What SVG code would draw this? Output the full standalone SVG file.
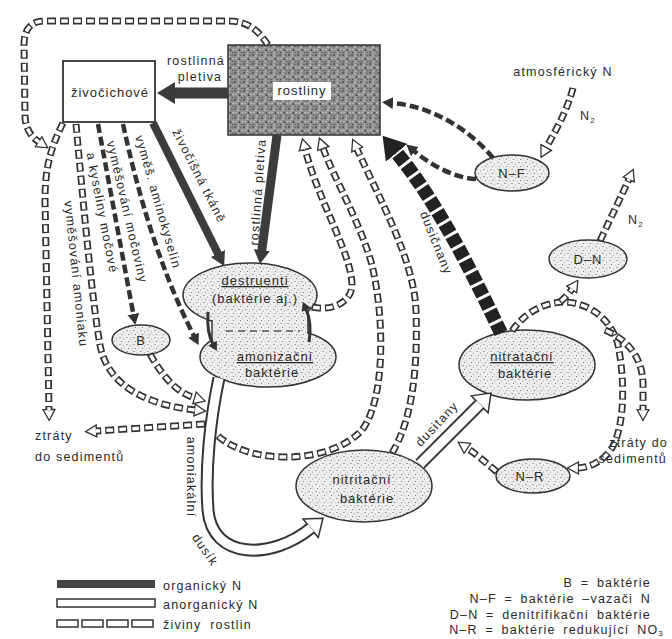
<svg xmlns="http://www.w3.org/2000/svg" width="672" height="639" viewBox="0 0 672 639">
<defs>
<style>
.t{font-family:"Liberation Sans",Arial,sans-serif;font-size:12.5px;fill:#2a2a2a;letter-spacing:1.2px}
.r{text-anchor:middle;dominant-baseline:central}
.k{font-family:"Liberation Sans",Arial,sans-serif;font-size:12.5px;fill:#2a2a2a;letter-spacing:1.2px;word-spacing:3px;text-anchor:end}
.n{font-family:"Liberation Sans",Arial,sans-serif;font-size:13px;fill:#2a2a2a;letter-spacing:1px;text-anchor:middle}
.el{fill:url(#st);stroke:#333;stroke-width:1.5}
.org{stroke:#3c3c3c;fill:none}
.dd{stroke:#333;stroke-width:4.5;stroke-dasharray:9 4;fill:none}
.ho{stroke:#333;stroke-width:7;stroke-dasharray:9 4;fill:none;marker-end:url(#ah)}
.hi{stroke:#fff;stroke-width:3.5;stroke-dasharray:6.6 6.4;stroke-dashoffset:-1.2;fill:none}
.wo{stroke:#333;stroke-width:13;fill:none;marker-end:url(#aw)}
.wi{stroke:#fff;stroke-width:9;fill:none}
.lg{fill:#fff;stroke:#333;stroke-width:1.5}
</style>
<pattern id="st" width="7" height="7" patternUnits="userSpaceOnUse">
<rect width="7" height="7" fill="#eeeeee"/>
<circle cx="1" cy="1.5" r="0.6" fill="#555"/>
<circle cx="4.5" cy="3" r="0.5" fill="#777"/>
<circle cx="2.5" cy="5.5" r="0.55" fill="#666"/>
<circle cx="6" cy="6" r="0.4" fill="#888"/>
</pattern>
<pattern id="rp" width="9" height="9" patternUnits="userSpaceOnUse">
<rect width="9" height="9" fill="#909090"/>
<circle cx="1" cy="1" r="0.9" fill="#454545"/>
<circle cx="4" cy="2" r="0.8" fill="#d2d2d2"/>
<circle cx="7" cy="1.5" r="0.7" fill="#555"/>
<circle cx="2" cy="4.5" r="0.8" fill="#c4c4c4"/>
<circle cx="5.5" cy="5" r="0.9" fill="#404040"/>
<circle cx="8" cy="4.5" r="0.7" fill="#dadada"/>
<circle cx="1.5" cy="7.5" r="0.8" fill="#4a4a4a"/>
<circle cx="4.5" cy="8" r="0.7" fill="#cfcfcf"/>
<circle cx="7.5" cy="7.5" r="0.8" fill="#5a5a5a"/>
</pattern>
<marker id="adL" markerUnits="userSpaceOnUse" viewBox="0 0 18 22" markerWidth="18" markerHeight="22" refX="1" refY="11" orient="auto"><path d="M0,0 L18,11 L0,22 z" fill="#3a3a3a"/></marker>
<marker id="adM" markerUnits="userSpaceOnUse" viewBox="0 0 14 16" markerWidth="14" markerHeight="16" refX="1" refY="8" orient="auto"><path d="M0,0 L14,8 L0,16 z" fill="#3a3a3a"/></marker>
<marker id="adS" markerUnits="userSpaceOnUse" viewBox="0 0 11 12" markerWidth="11" markerHeight="12" refX="1" refY="6" orient="auto"><path d="M0,0 L11,6 L0,12 z" fill="#333"/></marker>
<marker id="adT" markerUnits="userSpaceOnUse" viewBox="0 0 9 10" markerWidth="9" markerHeight="10" refX="1" refY="5" orient="auto"><path d="M0,0 L9,5 L0,10 z" fill="#333"/></marker>
<marker id="adX" markerUnits="userSpaceOnUse" viewBox="0 0 22 28" markerWidth="22" markerHeight="28" refX="1" refY="14" orient="auto"><path d="M0,0 L22,14 L0,28 z" fill="#222"/></marker>
<marker id="ah" markerUnits="userSpaceOnUse" viewBox="0 0 13 14" markerWidth="13" markerHeight="14" refX="1.5" refY="7" orient="auto"><path d="M1,1 L12,7 L1,13 z" fill="#fff" stroke="#333" stroke-width="1.3"/></marker>
<marker id="aw" markerUnits="userSpaceOnUse" viewBox="0 0 18 26" markerWidth="18" markerHeight="26" refX="1.5" refY="13" orient="auto"><path d="M1,1 L17,13 L1,25 z" fill="#fff" stroke="#333" stroke-width="1.5"/></marker>
<path id="h1" d="M268,45 C258,30 248,21 228,21 L45,21 C31,21 24,29 24,45 L25,115 C25,127 30,136 39,142"/>
<path id="h2" d="M63,123 C52,145 45,165 45,200 L49,410"/>
<path id="h3" d="M76,124 C83,200 92,300 100,345 C108,388 150,405 195,410"/>
<path id="h4" d="M150,354 C162,375 175,392 195,398"/>
<path id="h5" d="M205,424 L96,431"/>
<path id="h6" d="M218,436 C250,465 330,465 362,430 C385,400 385,320 372,265 C360,222 334,178 323,148"/>
<path id="h7" d="M312,307 C335,312 352,300 352,285 C352,255 318,200 305,149"/>
<path id="h8" d="M392,453 C412,420 418,370 416,310 C414,260 380,200 357,149"/>
<path id="h9" d="M573,88 C567,112 553,135 546,148"/>
<path id="h10" d="M600,241 C612,215 622,195 629,179"/>
<path id="h11" d="M512,331 C525,312 545,302 565,302 C590,303 612,320 618,345 C625,380 625,425 612,448 C603,462 588,468 578,468"/>
<path id="h11b" d="M560,302 C566,297 570,292 572,289"/>
<path id="h11c" d="M605,330 C628,340 643,358 643,385 L643,410"/>
<path id="h12" d="M497,472 C485,462 476,454 467,448"/>
<path id="w1" d="M219,378 C210,420 205,470 208,510 C212,560 272,560 311,528"/>
<path id="w2" d="M420,464 L480,404"/>
</defs>
<rect width="672" height="639" fill="#fff"/>

<g id="zivocichove">
<rect x="63" y="61" width="92" height="61" fill="#fff" stroke="#333" stroke-width="1.8"/>
<text class="n" x="110" y="97">živočichové</text>
</g>
<g id="rostliny">
<rect x="228" y="45" width="152" height="90" fill="url(#rp)" stroke="#333" stroke-width="1.5"/>
<rect x="273" y="82" width="58" height="18" fill="#fff"/>
<text class="n" x="302" y="95">rostliny</text>
</g>
<g id="N-F">
<ellipse class="el" cx="512" cy="173" rx="37" ry="18"/>
<text class="n" x="512" y="178">N–F</text>
</g>
<g id="D-N">
<ellipse class="el" cx="588" cy="259" rx="39" ry="19"/>
<text class="n" x="588" y="264">D–N</text>
</g>
<g id="B">
<ellipse class="el" cx="141" cy="340" rx="29" ry="15"/>
<text class="n" x="141" y="345">B</text>
</g>
<g id="amonizacni">
<ellipse class="el" cx="268" cy="357" rx="68" ry="30"/>
</g>
<g id="destruenti">
<ellipse class="el" cx="250" cy="295" rx="67" ry="32"/>
<rect x="212" y="308" width="96" height="38" fill="url(#st)"/>
<path d="M212,320 L212,341 M308,310 L308,334" stroke="#333" stroke-width="1.5" fill="none"/>
<path d="M226,331 L300,331" stroke="#555" stroke-width="1.5" stroke-dasharray="7 5" fill="none"/>
<text class="n" x="255" y="285" text-decoration="underline">destruenti</text>
<text class="n" x="255" y="303">(baktérie aj.)</text>
<text class="n" x="275" y="361" text-decoration="underline">amonizační</text>
<text class="n" x="272" y="377">baktérie</text>
</g>
<g id="nitratacni">
<ellipse class="el" cx="527" cy="365" rx="68" ry="35"/>
<text class="n" x="522" y="361" text-decoration="underline">nitratační</text>
<text class="n" x="525" y="378">baktérie</text>
</g>
<g id="nitritacni">
<ellipse class="el" cx="364" cy="486" rx="68" ry="36"/>
<text class="n" x="362" y="484">nitritační</text>
<text class="n" x="367" y="503">baktérie</text>
</g>
<g id="N-R">
<ellipse class="el" cx="533" cy="476" rx="37" ry="17"/>
<text class="n" x="530" y="481">N–R</text>
</g>

<g id="connectors">
<path class="org" d="M228,93 L174,93" stroke-width="11" marker-end="url(#adL)"/>
<path class="org" d="M153,123 L218.3,254.3" stroke-width="8" marker-end="url(#adM)"/>
<path class="org" d="M277,135 L261.7,251.1" stroke-width="9" marker-end="url(#adM)"/>
<path d="M501,333 C478,285 440,205 396,152" stroke="#222" stroke-width="14" stroke-dasharray="11 3" fill="none" marker-end="url(#adX)"/>
<path class="dd" d="M493,158 C470,130 432,106 392,103" marker-end="url(#adS)"/>
<path class="dd" d="M476,179 C455,178 432,166 414,151" marker-end="url(#adS)"/>
<path class="dd" d="M98,124 L133.5,315" marker-end="url(#adS)"/>
<path class="dd" d="M123,124 Q150,250 194,336" marker-end="url(#adS)"/>
<path d="M208,312 C207,326 209,337 213,344" stroke="#333" stroke-width="3" fill="none" marker-end="url(#adT)"/>
<path d="M309,342 C311,330 310,318 306,309" stroke="#333" stroke-width="3" fill="none" marker-end="url(#adT)"/>
<use href="#h1" class="ho"/><use href="#h1" class="hi"/>
<use href="#h2" class="ho"/><use href="#h2" class="hi"/>
<use href="#h3" class="ho"/><use href="#h3" class="hi"/>
<use href="#h4" class="ho"/><use href="#h4" class="hi"/>
<use href="#h5" class="ho"/><use href="#h5" class="hi"/>
<use href="#h6" class="ho"/><use href="#h6" class="hi"/>
<use href="#h7" class="ho"/><use href="#h7" class="hi"/>
<use href="#h8" class="ho"/><use href="#h8" class="hi"/>
<use href="#h9" class="ho"/><use href="#h9" class="hi"/>
<use href="#h10" class="ho"/><use href="#h10" class="hi"/>
<use href="#h11" class="ho"/><use href="#h11" class="hi"/>
<use href="#h11b" class="ho"/><use href="#h11b" class="hi"/>
<use href="#h11c" class="ho"/><use href="#h11c" class="hi"/>
<use href="#h12" class="ho"/><use href="#h12" class="hi"/>
<use href="#w1" class="wo"/><use href="#w1" class="wi"/>
<use href="#w2" class="wo"/><use href="#w2" class="wi"/>
</g>

<g id="labels">
<text class="t" x="196" y="65" text-anchor="middle">rostlinná</text>
<text class="t" x="200" y="81" text-anchor="middle">pletiva</text>
<text class="t" x="563" y="76" text-anchor="middle">atmosférický N</text>
<text class="t" x="580" y="120">N<tspan font-size="8" dy="3">2</tspan></text>
<text class="t" x="628" y="224">N<tspan font-size="8" dy="3">2</tspan></text>
<text class="t r" transform="translate(199,176) rotate(63)">živočišná tkáně</text>
<text class="t r" transform="translate(258,192) rotate(-86)">rostlinná pletiva</text>
<text class="t r" transform="translate(436,243) rotate(68)">dusičnany</text>
<text class="t r" transform="translate(76,274) rotate(84)">vyměšování amoniaku</text>
<text class="t r" transform="translate(127,212) rotate(77)">vyměšování močoviny</text>
<text class="t r" transform="translate(102,213) rotate(79)">a kyseliny močové</text>
<text class="t r" transform="translate(158,202) rotate(74)">vyměš. aminokyselin</text>
<text class="t r" transform="translate(191,477) rotate(90)">amoniakální</text>
<text class="t r" transform="translate(205,550) rotate(55)">dusík</text>
<text class="t r" transform="translate(437,424) rotate(-47)">dusitany</text>
<text class="t" x="35" y="440">ztráty</text>
<text class="t" x="35" y="461">do sedimentů</text>
<text class="t" x="668" y="447" text-anchor="end">ztráty do</text>
<text class="t" x="667" y="463" text-anchor="end">sedimentů</text>
</g>

<g id="legend">
<rect x="57" y="580" width="98" height="8" fill="#444"/>
<rect class="lg" x="57" y="599" width="98" height="8"/>
<rect class="lg" x="57" y="620" width="21" height="7"/>
<rect class="lg" x="82" y="620" width="21" height="7"/>
<rect class="lg" x="107" y="620" width="21" height="7"/>
<rect class="lg" x="132" y="620" width="21" height="7"/>
<text class="t" x="163" y="590">organický N</text>
<text class="t" x="163" y="609">anorganický N</text>
<text class="t" x="163" y="629" word-spacing="4">živiny rostlin</text>
<text class="k" x="651" y="587">B = baktérie</text>
<text class="k" x="651" y="603">N–F = baktérie –vazači N</text>
<text class="k" x="651" y="619">D–N = denitrifikační baktérie</text>
<text class="k" x="664" y="634">N–R = baktérie redukující NO<tspan font-size="8" dy="2">3</tspan></text>
</g>
</svg>
